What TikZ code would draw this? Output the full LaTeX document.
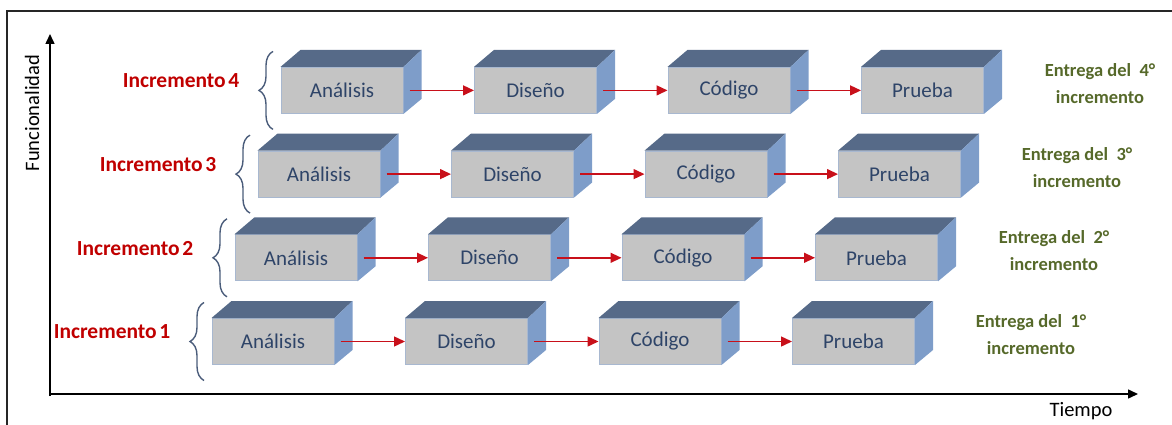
\documentclass[tikz,border=0pt]{standalone}
\usepackage{fontspec}
\setmainfont{Carlito}
\usetikzlibrary{arrows.meta,decorations.pathreplacing}
\definecolor{frontgray}{HTML}{C4C4C4}
\definecolor{frontedge}{HTML}{A8B8D0}
\definecolor{topblue}{HTML}{566A88}
\definecolor{sideblue}{HTML}{7E9DC9}
\definecolor{boxtext}{HTML}{2E4468}
\definecolor{incred}{HTML}{C00000}
\definecolor{arrred}{HTML}{C8101A}
\definecolor{olive}{HTML}{56692A}
\definecolor{bracecol}{HTML}{4A5C7A}
\tikzset{
  front/.style={draw=frontedge, line width=1pt, fill=frontgray, minimum width=122pt,
    minimum height=46pt, inner sep=0pt, text=boxtext, font=\fontsize{21}{25}\selectfont},
  topface/.style={fill=topblue},
  sideface/.style={fill=sideblue},
  flowarr/.style={draw=arrred, line width=1.4pt, -{Triangle[length=11pt,width=10pt]}},
  axisline/.style={draw=black, line width=1.5pt, -{Triangle[length=10pt,width=9pt]}},
  axislabel/.style={font=\fontsize{20.5}{24}\selectfont, text=black, inner sep=0pt},
  inclab/.style={font=\bfseries\fontsize{21.5}{25}\selectfont, text=incred, inner sep=0pt},
  entlab/.style={font=\bfseries\fontsize{18.5}{27}\selectfont, text=olive, align=center, inner sep=0pt},
  bracepath/.style={draw=bracecol, line width=1.4pt, decorate, decoration={brace, amplitude=14pt}},
  framepath/.style={draw=black!85, line width=2pt}
}
\begin{document}
\begin{tikzpicture}[x=1pt,y=-1pt]
\useasboundingbox (0,0) rectangle (1172,425);
\draw[framepath] (7,425) -- (7,11) -- (1172,11);
% axes
\coordinate (O) at (50,396);
\coordinate (Ytop) at (50,34);
\coordinate (Xend) at (1138,394);
\draw[axisline] (50,396) -- (Ytop);
\draw[axisline] (49.25,394) -- (Xend);
\node[axislabel, rotate=90] (flab) at (32,113) {Funcionalidad};
\node[axislabel] (tlab) at (1081,411) {Tiempo};
% rows
\foreach \r in {1,...,4} {
  \pgfmathsetmacro\lx{212+23*(\r-1)}
  \pgfmathsetmacro\cy{341.5-83.7*(\r-1)}
  \foreach \c/\t in {0/Análisis,1/Diseño,2/Código,3/Prueba} {
    \pgfmathsetmacro\bx{\lx+193.5*\c+61}
    \node[front] (b\r\c) at (\bx,\cy) {\t};
    \fill[topface] (b\r\c.north west) -- ++(20,-17) -- ([shift={(18,-17)}]b\r\c.north east) -- (b\r\c.north east) -- cycle;
    \fill[sideface] (b\r\c.north east) -- ++(18,-17) -- ([shift={(18,-15)}]b\r\c.south east) -- (b\r\c.south east) -- cycle;
  }
  \foreach \c/\n in {0/1,1/2,2/3} {
    \draw[flowarr] ([xshift=6pt]b\r\c.east) -- (b\r\n.west);
  }
  \coordinate (bb\r) at (\lx-8,\cy+39);
  \coordinate (bt\r) at (\lx-8,\cy-39);
  \draw[bracepath] (bb\r) -- (bt\r);
  \node[inclab] (inc\r) at (\lx-100,\cy-9.5) {Incremento\hspace{0.12em}\r};
  \node[entlab] (ent\r) at (\lx+819,\cy-7) {Entrega del\ \ \r°\\incremento};
}
\end{tikzpicture}
\end{document}
